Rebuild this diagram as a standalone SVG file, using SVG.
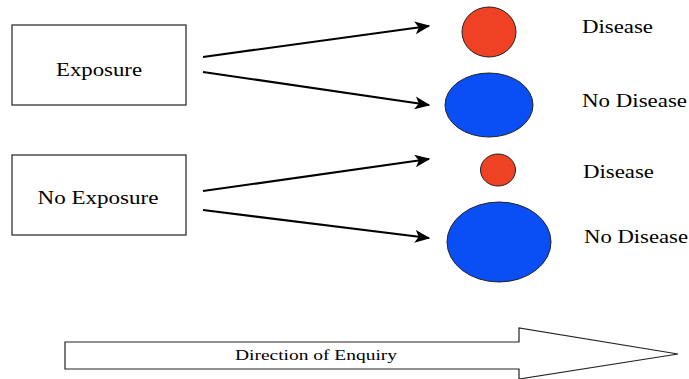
<svg xmlns="http://www.w3.org/2000/svg" width="689" height="379" viewBox="0 0 689 379">
<style>
.box{fill:#fff;stroke:#333;stroke-width:1.3}
.t{font-family:'Liberation Serif','DejaVu Serif',serif;font-size:19px;fill:#000}
.lbl{font-size:18px}
.conn{stroke:#000;stroke-width:2.2;fill:none}
.red{fill:#ef4123;stroke:#222;stroke-width:1}
.blue{fill:#0a4ef5;stroke:#222;stroke-width:1}
</style>
<defs>
<marker id="ah" viewBox="0 0 12 10" refX="11" refY="5" markerWidth="7" markerHeight="6" markerUnits="strokeWidth" orient="auto">
<path d="M0,0 L12,5 L0,10 L3,5 Z" fill="#000"/>
</marker>
</defs>
<g id="exposure"><rect class="box" x="12" y="25" width="174" height="80"/><text class="t" x="99" y="76" text-anchor="middle" textLength="86" lengthAdjust="spacingAndGlyphs">Exposure</text></g>
<g id="no-exposure"><rect class="box" x="12" y="155" width="174" height="80"/><text class="t" x="98" y="204" text-anchor="middle" textLength="121" lengthAdjust="spacingAndGlyphs">No Exposure</text></g>
<g id="connectors">
<line class="conn" x1="203" y1="57" x2="429" y2="26" marker-end="url(#ah)"/>
<line class="conn" x1="203" y1="72" x2="429" y2="105" marker-end="url(#ah)"/>
<line class="conn" x1="203" y1="191" x2="429" y2="159" marker-end="url(#ah)"/>
<line class="conn" x1="203" y1="210" x2="429" y2="238" marker-end="url(#ah)"/>
</g>
<g id="disease1"><ellipse class="red" cx="489" cy="32" rx="27" ry="25"/><text class="t lbl" x="582" y="33" textLength="71" lengthAdjust="spacingAndGlyphs">Disease</text></g>
<g id="nodisease1"><ellipse class="blue" cx="489" cy="105" rx="44" ry="32"/><text class="t lbl" x="582" y="107" textLength="105" lengthAdjust="spacingAndGlyphs">No Disease</text></g>
<g id="disease2"><ellipse class="red" cx="498" cy="170" rx="17.5" ry="16"/><text class="t lbl" x="583" y="178" textLength="71" lengthAdjust="spacingAndGlyphs">Disease</text></g>
<g id="nodisease2"><ellipse class="blue" cx="499" cy="242" rx="52" ry="40"/><text class="t lbl" x="584" y="243" textLength="104" lengthAdjust="spacingAndGlyphs">No Disease</text></g>
<g id="direction">
<path d="M65,342 L519,342 L519,328 L678,354 L519,379 L519,369 L65,369 Z" fill="#fff" stroke="#222" stroke-width="1.2"/>
<text class="t" x="316" y="360" text-anchor="middle" style="font-size:15.5px" textLength="162" lengthAdjust="spacingAndGlyphs">Direction of Enquiry</text>
</g>
</svg>
